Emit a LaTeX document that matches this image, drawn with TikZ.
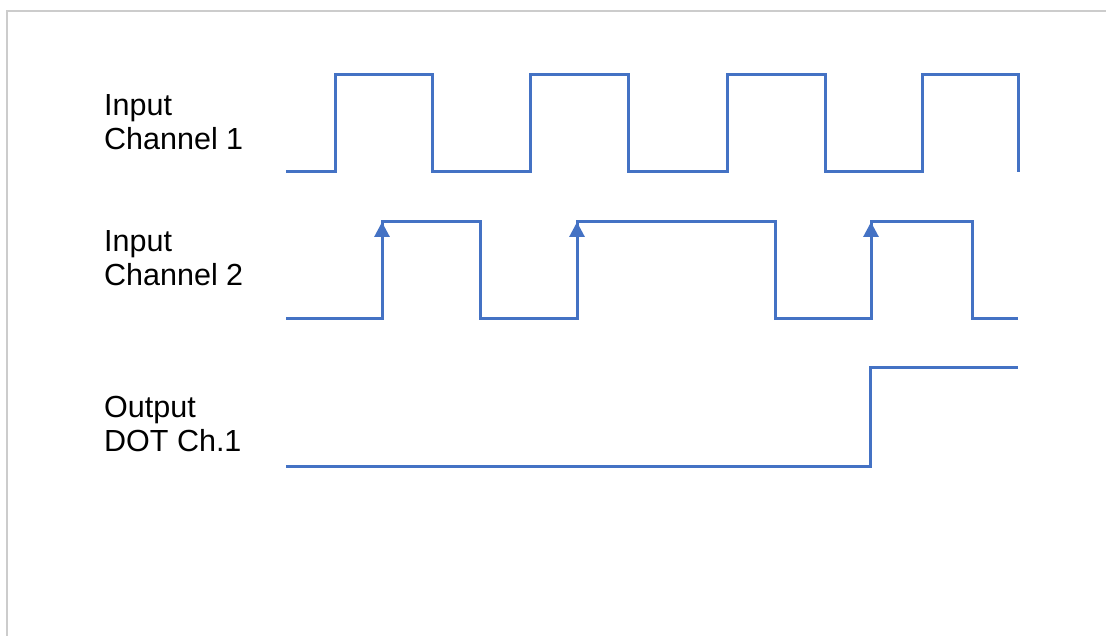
\documentclass[tikz,border=0pt]{standalone}
\usepackage{fontspec}
\setmainfont{Liberation Sans}
\usetikzlibrary{arrows.meta}
\definecolor{wave}{RGB}{68,114,196}
\definecolor{frame}{RGB}{204,204,204}
\begin{document}
\begin{tikzpicture}[x=1pt,y=-1pt,
  signal/.style={draw=wave,line width=3pt,line join=miter},
  edgearrow/.style={signal,-{Triangle[width=15pt,length=15pt]}},
  label/.style={anchor=base west,align=left,inner sep=0pt,
    font=\fontsize{30.5}{34}\selectfont}]
\useasboundingbox (0,0) rectangle (1106,636);
% page frame
\draw[frame,line width=2pt] (7,636) -- (7,11) -- (1106,11);

% labels (anchored at the baseline of the second line)
\node[label] (l1) at (104,150) {Input\\Channel 1};
\node[label] (l2) at (104,286) {Input\\Channel 2};
\node[label] (l3) at (104,451) {Output\\DOT Ch.1};

% input channel 1
\draw[signal] (286,172) -- (335,172) -- (335,75) -- (432,75) -- (432,172)
  -- (530,172) -- (530,75) -- (628,75) -- (628,172) -- (727,172)
  -- (727,75) -- (825,75) -- (825,172) -- (922,172) -- (922,75)
  -- (1018,75) -- (1018,172);

% input channel 2
\draw[signal] (286,319) -- (382,319) -- (382,222) -- (480,222) -- (480,319)
  -- (577,319) -- (577,222) -- (775,222) -- (775,319) -- (871,319)
  -- (871,222) -- (972,222) -- (972,319) -- (1018,319);
\draw[edgearrow] (382,319) -- (382,222);
\draw[edgearrow] (577,319) -- (577,222);
\draw[edgearrow] (871,319) -- (871,222);

% output DOT ch.1
\draw[signal] (286,466) -- (870,466) -- (870,367) -- (1018,367);
\end{tikzpicture}
\end{document}
